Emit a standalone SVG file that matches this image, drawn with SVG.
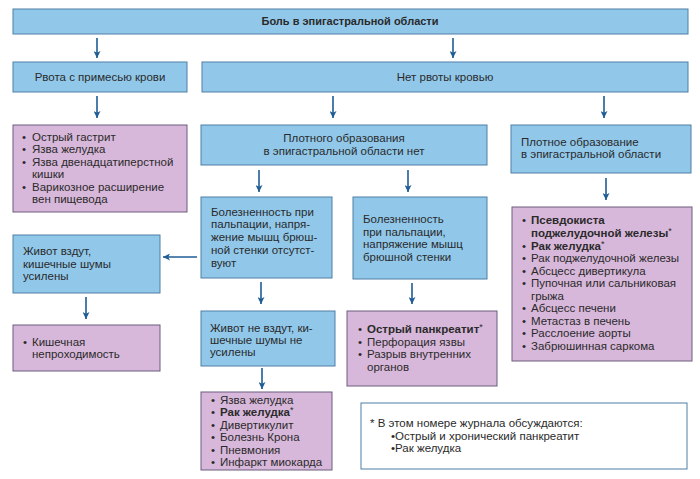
<svg xmlns="http://www.w3.org/2000/svg" width="700" height="479" viewBox="0 0 700 479">
<defs>
<marker id="ah" viewBox="0 0 10 10" refX="10" refY="5" markerWidth="9" markerHeight="7" markerUnits="userSpaceOnUse" orient="auto">
<path d="M0,0 L10,5 L0,10 L2.5,5 z" fill="#1f5d94"/>
</marker>
<style>
text{font-family:"Liberation Sans",Arial,sans-serif;font-size:11.5px;fill:#2a2a2a}
.b{fill:#91c8ea;stroke:#4f7fa5;stroke-width:1}
.p{fill:#d8b8da;stroke:#6a5d7e;stroke-width:1}
.w{fill:#ffffff;stroke:#4f7fa5;stroke-width:1}
.c{text-anchor:middle}
.bd{font-weight:bold}
.st{font-weight:normal}
#connectors line{stroke:#1f5d94;stroke-width:1.6;marker-end:url(#ah)}
</style>
</defs>
<rect width="700" height="479" fill="#ffffff"/>

<g id="n-top">
<rect class="b" x="13" y="9" width="675" height="25"/>
<text class="c bd" x="350" y="25" style="font-size:11px">Боль в эпигастральной области</text>
</g>
<g id="n-vomit">
<rect class="b" x="13" y="62" width="174" height="30"/>
<text class="c" x="100" y="81">Рвота с примесью крови</text>
</g>
<g id="n-novomit">
<rect class="b" x="202" y="62" width="486" height="30"/>
<text class="c" x="445" y="81">Нет рвоты кровью</text>
</g>
<g id="n-vomit-list">
<rect class="p" x="13" y="125" width="174" height="87"/>
<text x="22" y="141">•</text><text x="32" y="141">Острый гастрит</text>
<text x="22" y="153">•</text><text x="32" y="153">Язва желудка</text>
<text x="22" y="166">•</text><text x="32" y="166">Язва  двенадцатиперстной</text>
<text x="32" y="178">кишки</text>
<text x="22" y="191">•</text><text x="32" y="191">Варикозное расширение</text>
<text x="32" y="203">вен пищевода</text>
</g>
<g id="n-nomass">
<rect class="b" x="201" y="125" width="286" height="40"/>
<text class="c" x="344" y="142">Плотного образования</text>
<text class="c" x="344" y="155">в эпигастральной области нет</text>
</g>
<g id="n-mass">
<rect class="b" x="511" y="125" width="180" height="48"/>
<text x="521" y="146">Плотное образование</text>
<text x="521" y="158">в эпигастральной области</text>
</g>
<g id="n-nopain">
<rect class="b" x="201" y="197" width="131" height="81"/>
<text x="211" y="216">Болезненность при</text>
<text x="211" y="228">пальпации, напря-</text>
<text x="211" y="241">жение мышц брюш-</text>
<text x="211" y="254">ной стенки отсутст-</text>
<text x="211" y="267">вуют</text>
</g>
<g id="n-pain">
<rect class="b" x="353" y="197" width="134" height="82"/>
<text x="363" y="223">Болезненность</text>
<text x="363" y="236">при пальпации,</text>
<text x="363" y="248">напряжение мышц</text>
<text x="363" y="261">брюшной стенки</text>
</g>
<g id="n-mass-list">
<rect class="p" x="512" y="207" width="180" height="154"/>
<text x="522" y="224">•</text><text class="bd" x="531" y="224">Псевдокиста</text>
<text class="bd" x="531" y="237">поджелудочной железы<tspan class="st" font-size="9" dy="-3">*</tspan></text>
<text x="522" y="250">•</text><text class="bd" x="531" y="250">Рак желудка<tspan class="st" font-size="9" dy="-3">*</tspan></text>
<text x="522" y="262">•</text><text x="531" y="262">Рак поджелудочной железы</text>
<text x="522" y="275">•</text><text x="531" y="275">Абсцесс дивертикула</text>
<text x="522" y="287">•</text><text x="531" y="287">Пупочная или сальниковая</text>
<text x="531" y="300">грыжа</text>
<text x="522" y="312">•</text><text x="531" y="312">Абсцесс печени</text>
<text x="522" y="325">•</text><text x="531" y="325">Метастаз в печень</text>
<text x="522" y="337">•</text><text x="531" y="337">Расслоение аорты</text>
<text x="522" y="350">•</text><text x="531" y="350">Забрюшинная саркома</text>
</g>
<g id="n-bloated">
<rect class="b" x="13" y="235" width="147" height="58"/>
<text x="23" y="255">Живот вздут,</text>
<text x="23" y="268">кишечные шумы</text>
<text x="23" y="280">усилены</text>
</g>
<g id="n-obstruction">
<rect class="p" x="13" y="325" width="147" height="46"/>
<text x="23" y="346">•</text><text x="32" y="346">Кишечная</text>
<text x="32" y="358">непроходимость</text>
</g>
<g id="n-notbloated">
<rect class="b" x="201" y="311" width="134" height="55"/>
<text x="210" y="332">Живот не вздут, ки-</text>
<text x="210" y="344">шечные шумы не</text>
<text x="210" y="356">усилены</text>
</g>
<g id="n-notbloated-list">
<rect class="p" x="201" y="392" width="131" height="78"/>
<text x="211" y="404">•</text><text x="220" y="404">Язва желудка</text>
<text x="211" y="416">•</text><text class="bd" x="220" y="416">Рак желудка<tspan class="st" font-size="9" dy="-3">*</tspan></text>
<text x="211" y="429">•</text><text x="220" y="429">Дивертикулит</text>
<text x="211" y="441">•</text><text x="220" y="441">Болезнь Крона</text>
<text x="211" y="454">•</text><text x="220" y="454">Пневмония</text>
<text x="211" y="466">•</text><text x="220" y="466">Инфаркт миокарда</text>
</g>
<g id="n-pain-list">
<rect class="p" x="347" y="311" width="150" height="75"/>
<text x="358" y="333">•</text><text class="bd" x="367" y="333">Острый панкреатит<tspan class="st" font-size="9" dy="-3">*</tspan></text>
<text x="358" y="346">•</text><text x="367" y="346">Перфорация язвы</text>
<text x="358" y="358">•</text><text x="367" y="358">Разрыв внутренних</text>
<text x="367" y="371">органов</text>
</g>
<g id="n-footnote">
<rect class="w" x="361" y="403" width="326" height="66"/>
<text x="370" y="427">* В этом номере журнала обсуждаются:</text>
<text x="391" y="440">•Острый и хронический панкреатит</text>
<text x="391" y="452">•Рак желудка</text>
</g>

<g id="connectors">
<line x1="97" y1="38" x2="97" y2="58"/>
<line x1="453" y1="38" x2="453" y2="58"/>
<line x1="97" y1="96" x2="97" y2="118"/>
<line x1="333" y1="96" x2="333" y2="118"/>
<line x1="604" y1="96" x2="604" y2="118"/>
<line x1="259" y1="170" x2="259" y2="192"/>
<line x1="408" y1="170" x2="408" y2="192"/>
<line x1="606" y1="178" x2="606" y2="200"/>
<line x1="197" y1="257" x2="163" y2="257"/>
<line x1="86" y1="297" x2="86" y2="319"/>
<line x1="261" y1="282" x2="261" y2="304"/>
<line x1="412" y1="283" x2="412" y2="304"/>
<line x1="262" y1="368" x2="262" y2="389"/>
</g>
</svg>
